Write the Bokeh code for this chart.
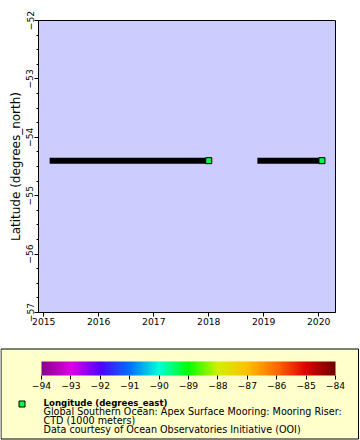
from datetime import datetime
import numpy as np
from bokeh.plotting import figure
from bokeh.models import (Range1d, FixedTicker, DatetimeTickFormatter, LinearColorMapper,
                          ColorBar, ColumnDataSource)
from bokeh.core.properties import value
from bokeh.transform import transform
from bokeh.embed import file_html
from bokeh.resources import INLINE

# ---- data ----
seg_start = ["2015-03-01", "2018-12-10"]
seg_end = ["2018-01-01", "2020-01-23"]
seg_lat = [-54.40, -54.40]
seg_lon = [-89.3, -89.3]
year_ticks = [2015, 2016, 2017, 2018, 2019, 2020]
lat_ticks = [-57, -56, -55, -54, -53, -52]
cbar_ticks = [-94, -93, -92, -91, -90, -89, -88, -87, -86, -85, -84]
cbar_key_colors = ["#88008c", "#e000e8", "#5000ff", "#0070ff", "#00ffd8", "#00ff00",
                   "#d0f000", "#ffc000", "#ff6a00", "#e00000", "#700000"]
legend_lines = ["Longitude (degrees_east)",
                "Global Southern Ocean: Apex Surface Mooring: Mooring Riser:",
                "CTD (1000 meters)",
                "Data courtesy of Ocean Observatories Initiative (OOI)"]

FONT = "DejaVu Sans"

# palette from key colours
def hex2rgb(h):
    return np.array([int(h[i:i + 2], 16) for i in (1, 3, 5)], dtype=float)
keys = np.array([hex2rgb(c) for c in cbar_key_colors])
kpos = np.linspace(0, 1, len(keys))
palette = []
for t in np.linspace(0, 1, 256):
    rgb = [np.interp(t, kpos, keys[:, j]) for j in range(3)]
    palette.append("#%02x%02x%02x" % tuple(int(round(v)) for v in rgb))
mapper = LinearColorMapper(palette=palette, low=cbar_ticks[0], high=cbar_ticks[-1])

src = ColumnDataSource(dict(
    x0=[datetime.fromisoformat(s) for s in seg_start],
    x1=[datetime.fromisoformat(s) for s in seg_end],
    lat=seg_lat, lon=seg_lon))

# ---- main plot ----
p = figure(width=360, height=346, x_axis_type="datetime",
           x_range=Range1d(datetime(2014, 11, 27), datetime(2020, 4, 22)),
           y_range=Range1d(-57, -52),
           output_backend="svg", toolbar_location=None,
           min_border_left=38, min_border_right=25, min_border_top=20, min_border_bottom=34)
p.background_fill_color = "#ccccff"
p.border_fill_color = "white"
p.outline_line_color = "black"
p.outline_line_width = 1
p.xgrid.visible = False
p.ygrid.visible = False

p.segment(x0="x0", y0="lat", x1="x1", y1="lat", source=src, line_color="black",
          line_width=6, line_cap="square")
p.scatter(x="x1", y="lat", source=src, marker="square", size=6,
          fill_color=transform("lon", mapper), line_color="black", line_width=1)

xticks = [datetime(y, 1, 1).timestamp() * 1000 for y in year_ticks]
p.xaxis.ticker = FixedTicker(ticks=xticks)
p.xaxis.formatter = DatetimeTickFormatter(years="%Y", months="%Y", days="%Y", hours="%Y",
                                          minutes="%Y", seconds="%Y", milliseconds="%Y",
                                          microseconds="%Y", hourmin="%Y", minsec="%Y")
minor = [float(v) for v in np.arange(-57, -51.9, 0.25) if abs(v - round(v)) > 1e-6]
p.yaxis.ticker = FixedTicker(ticks=lat_ticks, minor_ticks=minor)
for ax in (p.xaxis[0], p.yaxis[0]):
    ax.axis_line_color = "black"
    ax.major_tick_in = 0
    ax.major_tick_out = 4
    ax.minor_tick_in = 0
    ax.minor_tick_out = 2
    ax.major_tick_line_color = "black"
    ax.major_label_text_font = FONT
    ax.major_label_text_font_size = "9.2px"
    ax.major_label_text_color = "black"
    ax.major_label_standoff = 1
p.xaxis.minor_tick_line_color = None
p.yaxis.major_label_orientation = "vertical"
p.yaxis.axis_label = "Latitude (degrees_north)"
p.yaxis.axis_label_text_font = FONT
p.yaxis.axis_label_text_font_size = "12px"
p.yaxis.axis_label_text_font_style = "normal"
p.yaxis.axis_label_text_color = "black"
p.yaxis.axis_label_standoff = 1

# ---- legend panel ----
q = figure(width=360, height=94, x_range=Range1d(0, 360), y_range=Range1d(94, 0),
           output_backend="svg", toolbar_location=None, min_border=0,
           min_border_left=0, min_border_right=0, min_border_top=0, min_border_bottom=0,
           x_axis_location=None, y_axis_location=None)
q.xgrid.visible = False
q.ygrid.visible = False
q.outline_line_color = None
q.background_fill_color = "white"
q.border_fill_color = "white"
q.quad(left=0.5, right=358, top=2.5, bottom=92.5, fill_color="#ffffcc",
       line_color="black", line_width=1)

cb = ColorBar(color_mapper=mapper, orientation="horizontal", width=294, height=14,
              location=(41, 49), padding=0, margin=0,
              ticker=FixedTicker(ticks=cbar_ticks),
              major_tick_in=0, major_tick_out=4, major_tick_line_color="black",
              minor_tick_line_color=None,
              major_label_text_font=FONT, major_label_text_font_size="9.2px",
              major_label_text_color="black", label_standoff=2,
              background_fill_alpha=0, bar_line_color=None, border_line_color=None)
q.add_layout(cb, "center")

legend_src = ColumnDataSource(dict(x=[21.5], y=[57.5], lon=seg_lon[:1]))
q.scatter(x="x", y="y", marker="square", size=6,
          fill_color=transform("lon", mapper), line_color="black", line_width=1,
          source=legend_src)

q.text(x=[43], y=[56.7], text=legend_lines[:1], text_font=value(FONT),
       text_font_size="8.6px", text_font_style="bold", text_color="black",
       text_baseline="alphabetic")
q.text(x=[43, 43, 43], y=[65, 74, 83], text=legend_lines[1:], text_font=value(FONT),
       text_font_size="9.6px", text_color="black", text_baseline="alphabetic")

open("out.html", "w").write(file_html([p, q], INLINE))
